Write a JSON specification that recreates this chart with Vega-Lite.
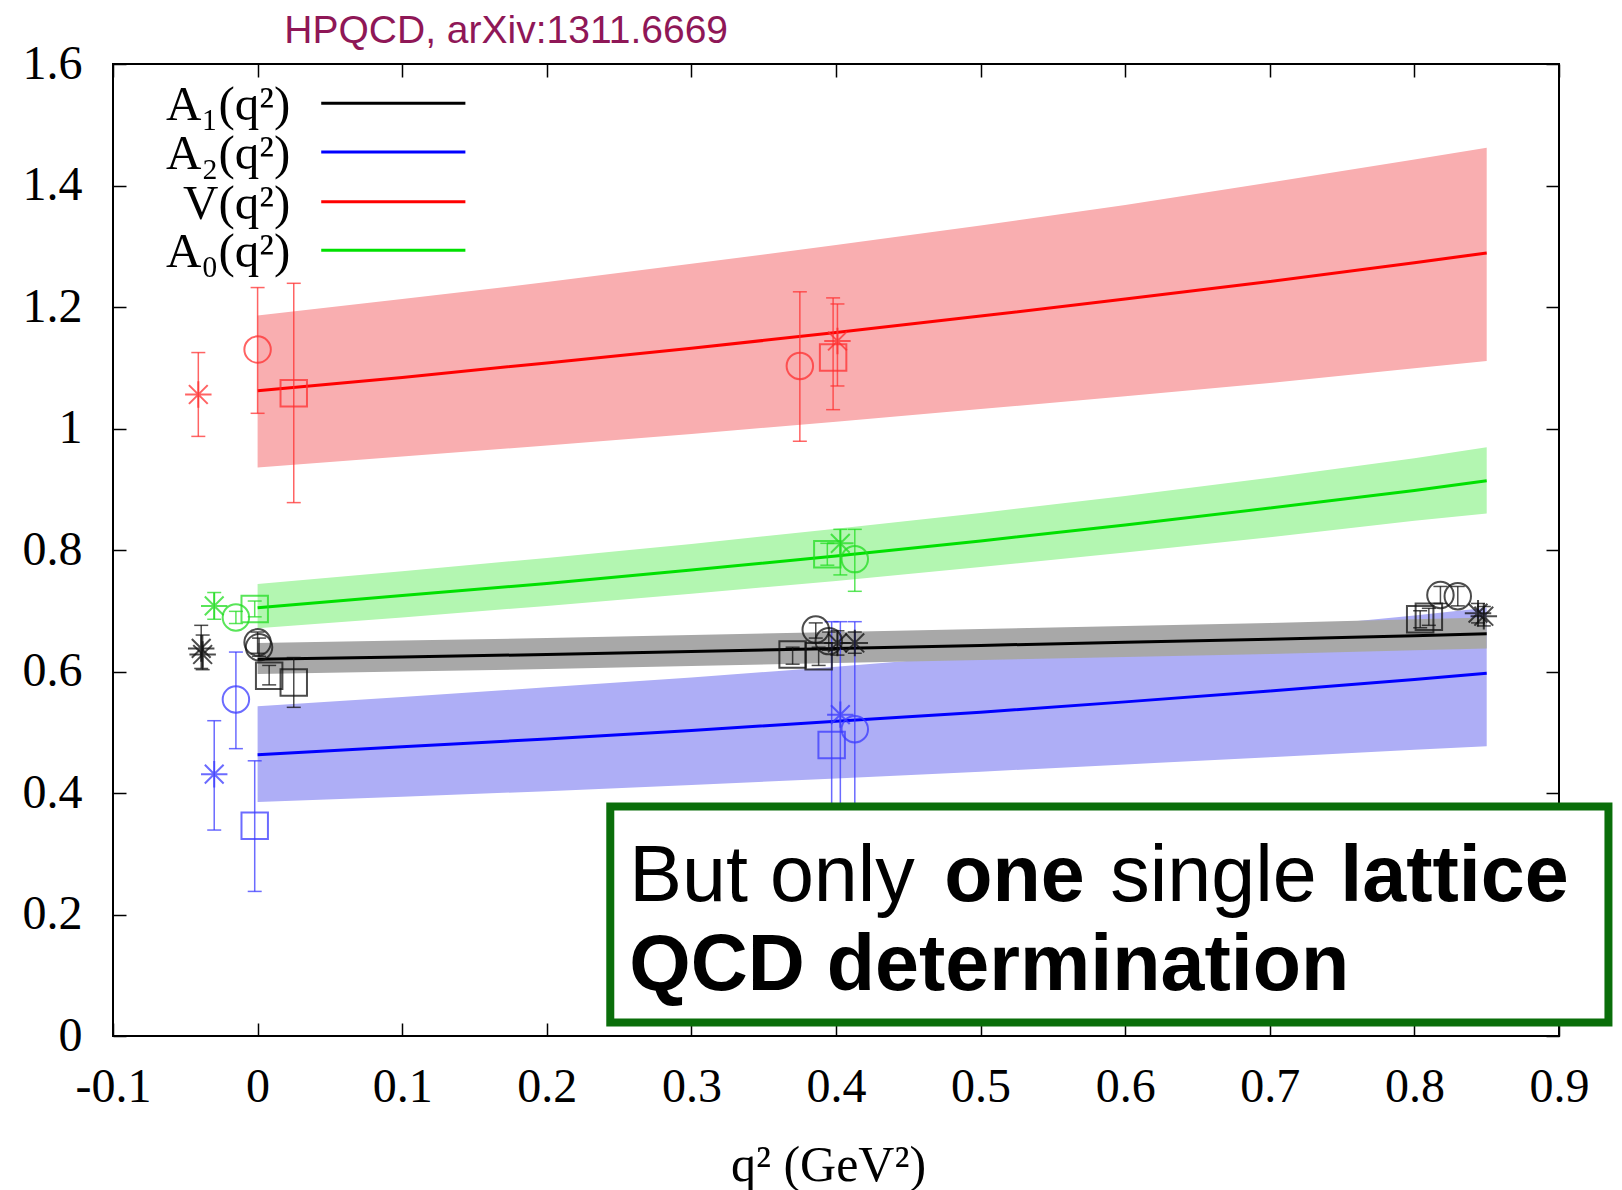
{
  "$schema": "https://vega.github.io/schema/vega-lite/v6.json",
  "width": 1446,
  "height": 972,
  "autosize": {"type": "none"},
  "padding": {"left": 113, "top": 64, "right": 63, "bottom": 154},
  "background": "white",
  "config": {
    "view": {"stroke": "black", "strokeWidth": 2},
    "axis": {"domain": false, "grid": false, "tickSize": -13, "tickColor": "black", "tickWidth": 1.5, "labelFont": "Liberation Serif", "labelFontSize": 48, "labelColor": "black", "labelFlush": false, "labelOverlap": false, "titleFont": "Liberation Serif", "titleFontSize": 50, "titleFontWeight": "normal", "titleColor": "black"}
  },
  "datasets": {
    "curves": [
      {"f": "V", "x": 0, "y": 1.062, "lo": 0.936, "hi": 1.186},
      {"f": "V", "x": 0.1, "y": 1.084, "lo": 0.954, "hi": 1.213},
      {"f": "V", "x": 0.2, "y": 1.108, "lo": 0.972, "hi": 1.241},
      {"f": "V", "x": 0.3, "y": 1.132, "lo": 0.991, "hi": 1.271},
      {"f": "V", "x": 0.4, "y": 1.158, "lo": 1.011, "hi": 1.302},
      {"f": "V", "x": 0.5, "y": 1.185, "lo": 1.032, "hi": 1.334},
      {"f": "V", "x": 0.6, "y": 1.213, "lo": 1.053, "hi": 1.368},
      {"f": "V", "x": 0.7, "y": 1.242, "lo": 1.075, "hi": 1.405},
      {"f": "V", "x": 0.8, "y": 1.273, "lo": 1.099, "hi": 1.443},
      {"f": "V", "x": 0.85, "y": 1.289, "lo": 1.111, "hi": 1.462},
      {"f": "A0", "x": 0, "y": 0.705, "lo": 0.671, "hi": 0.744},
      {"f": "A0", "x": 0.1, "y": 0.725, "lo": 0.689, "hi": 0.765},
      {"f": "A0", "x": 0.2, "y": 0.745, "lo": 0.708, "hi": 0.787},
      {"f": "A0", "x": 0.3, "y": 0.767, "lo": 0.728, "hi": 0.810},
      {"f": "A0", "x": 0.4, "y": 0.790, "lo": 0.749, "hi": 0.835},
      {"f": "A0", "x": 0.5, "y": 0.815, "lo": 0.772, "hi": 0.861},
      {"f": "A0", "x": 0.6, "y": 0.841, "lo": 0.796, "hi": 0.889},
      {"f": "A0", "x": 0.7, "y": 0.869, "lo": 0.821, "hi": 0.919},
      {"f": "A0", "x": 0.8, "y": 0.898, "lo": 0.848, "hi": 0.951},
      {"f": "A0", "x": 0.85, "y": 0.914, "lo": 0.860, "hi": 0.969},
      {"f": "A2", "x": 0, "y": 0.463, "lo": 0.385, "hi": 0.543},
      {"f": "A2", "x": 0.1, "y": 0.476, "lo": 0.394, "hi": 0.558},
      {"f": "A2", "x": 0.2, "y": 0.489, "lo": 0.403, "hi": 0.574},
      {"f": "A2", "x": 0.3, "y": 0.503, "lo": 0.413, "hi": 0.590},
      {"f": "A2", "x": 0.4, "y": 0.518, "lo": 0.424, "hi": 0.608},
      {"f": "A2", "x": 0.5, "y": 0.533, "lo": 0.435, "hi": 0.627},
      {"f": "A2", "x": 0.6, "y": 0.550, "lo": 0.447, "hi": 0.647},
      {"f": "A2", "x": 0.7, "y": 0.568, "lo": 0.459, "hi": 0.669},
      {"f": "A2", "x": 0.8, "y": 0.587, "lo": 0.471, "hi": 0.692},
      {"f": "A2", "x": 0.85, "y": 0.597, "lo": 0.477, "hi": 0.705},
      {"f": "A1", "x": 0, "y": 0.620, "lo": 0.596, "hi": 0.647},
      {"f": "A1", "x": 0.1, "y": 0.624, "lo": 0.600, "hi": 0.651},
      {"f": "A1", "x": 0.2, "y": 0.628, "lo": 0.604, "hi": 0.655},
      {"f": "A1", "x": 0.3, "y": 0.633, "lo": 0.609, "hi": 0.660},
      {"f": "A1", "x": 0.4, "y": 0.638, "lo": 0.614, "hi": 0.665},
      {"f": "A1", "x": 0.5, "y": 0.643, "lo": 0.619, "hi": 0.670},
      {"f": "A1", "x": 0.6, "y": 0.648, "lo": 0.624, "hi": 0.675},
      {"f": "A1", "x": 0.7, "y": 0.653, "lo": 0.629, "hi": 0.680},
      {"f": "A1", "x": 0.8, "y": 0.659, "lo": 0.635, "hi": 0.686},
      {"f": "A1", "x": 0.85, "y": 0.662, "lo": 0.638, "hi": 0.689}
    ],
    "points": [
      {"f": "V", "s": "star", "x": -0.041, "y": 1.056, "lo": 0.987, "hi": 1.125},
      {"f": "V", "s": "circle", "x": 0.0, "y": 1.130, "lo": 1.025, "hi": 1.232},
      {"f": "V", "s": "square", "x": 0.025, "y": 1.058, "lo": 0.878, "hi": 1.239},
      {"f": "V", "s": "circle", "x": 0.375, "y": 1.103, "lo": 0.979, "hi": 1.225},
      {"f": "V", "s": "square", "x": 0.398, "y": 1.117, "lo": 1.031, "hi": 1.215},
      {"f": "V", "s": "star", "x": 0.401, "y": 1.144, "lo": 1.070, "hi": 1.205},
      {"f": "A0", "s": "star", "x": -0.030, "y": 0.708, "lo": 0.686, "hi": 0.730},
      {"f": "A0", "s": "circle", "x": -0.015, "y": 0.689, "lo": 0.679, "hi": 0.699},
      {"f": "A0", "s": "square", "x": -0.002, "y": 0.703, "lo": 0.690, "hi": 0.716},
      {"f": "A0", "s": "square", "x": 0.394, "y": 0.793, "lo": 0.775, "hi": 0.811},
      {"f": "A0", "s": "star", "x": 0.403, "y": 0.811, "lo": 0.759, "hi": 0.834},
      {"f": "A0", "s": "circle", "x": 0.413, "y": 0.785, "lo": 0.732, "hi": 0.834},
      {"f": "A1", "s": "star", "x": -0.039, "y": 0.638, "lo": 0.605, "hi": 0.676},
      {"f": "A1", "s": "star", "x": -0.038, "y": 0.628, "lo": 0.603, "hi": 0.660},
      {"f": "A1", "s": "circle", "x": 0.0, "y": 0.648, "lo": 0.630, "hi": 0.665},
      {"f": "A1", "s": "circle", "x": 0.001, "y": 0.640, "lo": 0.625, "hi": 0.655},
      {"f": "A1", "s": "square", "x": 0.008, "y": 0.593, "lo": 0.578, "hi": 0.610},
      {"f": "A1", "s": "square", "x": 0.025, "y": 0.582, "lo": 0.541, "hi": 0.623},
      {"f": "A1", "s": "square", "x": 0.370, "y": 0.628, "lo": 0.612, "hi": 0.640},
      {"f": "A1", "s": "square", "x": 0.388, "y": 0.625, "lo": 0.610, "hi": 0.640},
      {"f": "A1", "s": "circle", "x": 0.386, "y": 0.669, "lo": 0.655, "hi": 0.680},
      {"f": "A1", "s": "circle", "x": 0.395, "y": 0.650, "lo": 0.635, "hi": 0.665},
      {"f": "A1", "s": "star", "x": 0.401, "y": 0.647, "lo": 0.627, "hi": 0.667},
      {"f": "A1", "s": "star", "x": 0.413, "y": 0.647, "lo": 0.630, "hi": 0.665},
      {"f": "A1", "s": "square", "x": 0.804, "y": 0.686, "lo": 0.672, "hi": 0.700},
      {"f": "A1", "s": "square", "x": 0.810, "y": 0.690, "lo": 0.676, "hi": 0.704},
      {"f": "A1", "s": "circle", "x": 0.818, "y": 0.726, "lo": 0.712, "hi": 0.740},
      {"f": "A1", "s": "circle", "x": 0.830, "y": 0.724, "lo": 0.708, "hi": 0.740},
      {"f": "A1", "s": "star", "x": 0.844, "y": 0.696, "lo": 0.680, "hi": 0.712},
      {"f": "A1", "s": "star", "x": 0.848, "y": 0.691, "lo": 0.675, "hi": 0.707},
      {"f": "A2", "s": "star", "x": -0.030, "y": 0.431, "lo": 0.339, "hi": 0.519},
      {"f": "A2", "s": "circle", "x": -0.015, "y": 0.554, "lo": 0.473, "hi": 0.632},
      {"f": "A2", "s": "square", "x": -0.002, "y": 0.346, "lo": 0.238, "hi": 0.453},
      {"f": "A2", "s": "star", "x": 0.403, "y": 0.529, "lo": 0.300, "hi": 0.682},
      {"f": "A2", "s": "circle", "x": 0.413, "y": 0.505, "lo": 0.300, "hi": 0.682},
      {"f": "A2", "s": "square", "x": 0.397, "y": 0.479, "lo": 0.300, "hi": 0.682}
    ],
    "one": [{}]
  },
  "layer": [
    {
      "layer": [
        {
          "data": {"name": "curves"},
          "mark": {"type": "area", "opacity": 1},
          "encoding": {
            "x": {"field": "x", "type": "quantitative", "scale": {"domain": [-0.1, 0.9], "nice": false, "zero": false},
              "axis": {"orient": "bottom", "values": [-0.1, 0, 0.1, 0.2, 0.3, 0.4, 0.5, 0.6, 0.7, 0.8, 0.9], "format": "~g", "labelExpr": "replace(datum.label, '\u2212', '-')", "labelBaseline": "top", "labelPadding": 40, "title": "q\u00b2 (GeV\u00b2)", "titleX": 715, "titleY": 144, "titleBaseline": "alphabetic", "titleAlign": "center", "titleAnchor": null}},
            "y": {"field": "lo", "type": "quantitative", "scale": {"domain": [0, 1.6], "nice": false, "zero": false},
              "axis": {"orient": "left", "values": [0, 0.2, 0.4, 0.6, 0.8, 1, 1.2, 1.4, 1.6], "format": "~g", "labelBaseline": "middle", "labelPadding": 44, "title": null}},
            "y2": {"field": "hi"},
            "fill": {"field": "f", "type": "nominal", "sort": null, "scale": {"domain": ["V", "A0", "A2", "A1"], "range": ["#f9aeb0", "#b3f6b1", "#aeaef6", "#a8a8a8"]}, "legend": null}
          }
        },
        {
          "data": {"name": "curves"},
          "mark": {"type": "line", "strokeWidth": 3},
          "encoding": {
            "x": {"field": "x", "type": "quantitative"},
            "y": {"field": "y", "type": "quantitative"},
            "stroke": {"field": "f", "type": "nominal", "scale": {"domain": ["V", "A0", "A2", "A1"], "range": ["#ff0000", "#00e000", "#0000ff", "#000000"]}, "legend": null}
          }
        },
        {
          "data": {"name": "points"},
          "mark": {"type": "rule", "strokeWidth": 1.5, "opacity": 0.75},
          "encoding": {
            "x": {"field": "x", "type": "quantitative"},
            "y": {"field": "lo", "type": "quantitative"},
            "y2": {"field": "hi"},
            "color": {"field": "f", "type": "nominal", "scale": {"domain": ["V", "A0", "A2", "A1"], "range": ["#ff3030", "#22dd22", "#3a3aff", "#111111"]}, "legend": null}
          }
        },
        {
          "data": {"name": "points"},
          "mark": {"type": "tick", "orient": "horizontal", "size": 14, "thickness": 1.5, "opacity": 0.75},
          "encoding": {
            "x": {"field": "x", "type": "quantitative"},
            "y": {"field": "lo", "type": "quantitative"},
            "color": {"field": "f", "type": "nominal", "legend": null}
          }
        },
        {
          "data": {"name": "points"},
          "mark": {"type": "tick", "orient": "horizontal", "size": 14, "thickness": 1.5, "opacity": 0.75},
          "encoding": {
            "x": {"field": "x", "type": "quantitative"},
            "y": {"field": "hi", "type": "quantitative"},
            "color": {"field": "f", "type": "nominal", "legend": null}
          }
        },
        {
          "data": {"name": "points"},
          "mark": {"type": "point", "filled": false, "strokeWidth": 2, "size": 700, "opacity": 0.75},
          "encoding": {
            "x": {"field": "x", "type": "quantitative"},
            "y": {"field": "y", "type": "quantitative"},
            "color": {"field": "f", "type": "nominal", "legend": null},
            "shape": {"field": "s", "type": "nominal", "scale": {"domain": ["star", "circle", "square"], "range": ["M-1,0L1,0M0,-1L0,1M-0.71,-0.71L0.71,0.71M-0.71,0.71L0.71,-0.71", "circle", "square"]}, "legend": null}
          }
        },
        {"data": {"name": "one"}, "mark": {"type": "rule", "stroke": "#000000", "strokeWidth": 3}, "encoding": {"x": {"datum": 0.044}, "x2": {"datum": 0.1437}, "y": {"datum": 1.5352}}},
        {"data": {"name": "one"}, "mark": {"type": "rule", "stroke": "#0000ff", "strokeWidth": 3}, "encoding": {"x": {"datum": 0.044}, "x2": {"datum": 0.1437}, "y": {"datum": 1.455}}},
        {"data": {"name": "one"}, "mark": {"type": "rule", "stroke": "#ff0000", "strokeWidth": 3}, "encoding": {"x": {"datum": 0.044}, "x2": {"datum": 0.1437}, "y": {"datum": 1.3734}}},
        {"data": {"name": "one"}, "mark": {"type": "rule", "stroke": "#00e000", "strokeWidth": 3}, "encoding": {"x": {"datum": 0.044}, "x2": {"datum": 0.1437}, "y": {"datum": 1.2935}}},
        {"data": {"name": "one"}, "mark": {"type": "text", "align": "right", "baseline": "alphabetic", "dy": 17, "font": "Liberation Serif", "fontSize": 49, "color": "black"}, "encoding": {"x": {"datum": 0.0226}, "y": {"datum": 1.5352}, "text": {"value": "A\u2081(q\u00b2)"}}},
        {"data": {"name": "one"}, "mark": {"type": "text", "align": "right", "baseline": "alphabetic", "dy": 17, "font": "Liberation Serif", "fontSize": 49, "color": "black"}, "encoding": {"x": {"datum": 0.0226}, "y": {"datum": 1.455}, "text": {"value": "A\u2082(q\u00b2)"}}},
        {"data": {"name": "one"}, "mark": {"type": "text", "align": "right", "baseline": "alphabetic", "dy": 17, "font": "Liberation Serif", "fontSize": 49, "color": "black"}, "encoding": {"x": {"datum": 0.0226}, "y": {"datum": 1.3734}, "text": {"value": "V(q\u00b2)"}}},
        {"data": {"name": "one"}, "mark": {"type": "text", "align": "right", "baseline": "alphabetic", "dy": 17, "font": "Liberation Serif", "fontSize": 49, "color": "black"}, "encoding": {"x": {"datum": 0.0226}, "y": {"datum": 1.2935}, "text": {"value": "A\u2080(q\u00b2)"}}},
        {"data": {"name": "one"}, "mark": {"type": "text", "align": "left", "baseline": "alphabetic", "clip": false, "font": "Liberation Sans", "fontSize": 39, "fontWeight": "normal", "color": "#8f1757"}, "encoding": {"x": {"datum": 0.0185}, "y": {"datum": 1.634}, "text": {"value": "HPQCD, arXiv:1311.6669"}}},
        {"data": {"name": "one"}, "mark": {"type": "rect", "clip": false, "fill": "white", "stroke": "#0a6e0a", "strokeWidth": 8}, "encoding": {"x": {"datum": 0.2439}, "x2": {"datum": 0.9342}, "y": {"datum": 0.3776}, "y2": {"datum": 0.0222}}},
        {"data": {"name": "one"}, "mark": {"type": "text", "align": "left", "baseline": "alphabetic", "font": "Liberation Sans", "fontSize": 79, "fontWeight": "normal", "color": "black"}, "encoding": {"x": {"datum": 0.2571}, "y": {"datum": 0.2218}, "text": {"value": "But only"}}},
        {"data": {"name": "one"}, "mark": {"type": "text", "align": "left", "baseline": "alphabetic", "font": "Liberation Sans", "fontSize": 79, "fontWeight": "bold", "color": "black"}, "encoding": {"x": {"datum": 0.4749}, "y": {"datum": 0.2218}, "text": {"value": "one"}}},
        {"data": {"name": "one"}, "mark": {"type": "text", "align": "left", "baseline": "alphabetic", "font": "Liberation Sans", "fontSize": 79, "fontWeight": "normal", "color": "black"}, "encoding": {"x": {"datum": 0.5897}, "y": {"datum": 0.2218}, "text": {"value": "single"}}},
        {"data": {"name": "one"}, "mark": {"type": "text", "align": "left", "baseline": "alphabetic", "font": "Liberation Sans", "fontSize": 79, "fontWeight": "bold", "color": "black"}, "encoding": {"x": {"datum": 0.7488}, "y": {"datum": 0.2218}, "text": {"value": "lattice"}}},
        {"data": {"name": "one"}, "mark": {"type": "text", "align": "left", "baseline": "alphabetic", "font": "Liberation Sans", "fontSize": 79, "fontWeight": "bold", "color": "black"}, "encoding": {"x": {"datum": 0.2571}, "y": {"datum": 0.0765}, "text": {"value": "QCD determination"}}}
      ]
    },
    {
      "data": {"name": "curves"},
      "mark": {"type": "point", "opacity": 0},
      "encoding": {
        "x": {"field": "x", "type": "quantitative", "axis": {"orient": "top", "values": [-0.1, 0, 0.1, 0.2, 0.3, 0.4, 0.5, 0.6, 0.7, 0.8, 0.9], "labels": false, "title": null}},
        "y": {"field": "y", "type": "quantitative", "axis": {"orient": "right", "values": [0, 0.2, 0.4, 0.6, 0.8, 1, 1.2, 1.4, 1.6], "labels": false, "title": null}}
      }
    }
  ],
  "resolve": {"axis": {"x": "independent", "y": "independent"}}
}
